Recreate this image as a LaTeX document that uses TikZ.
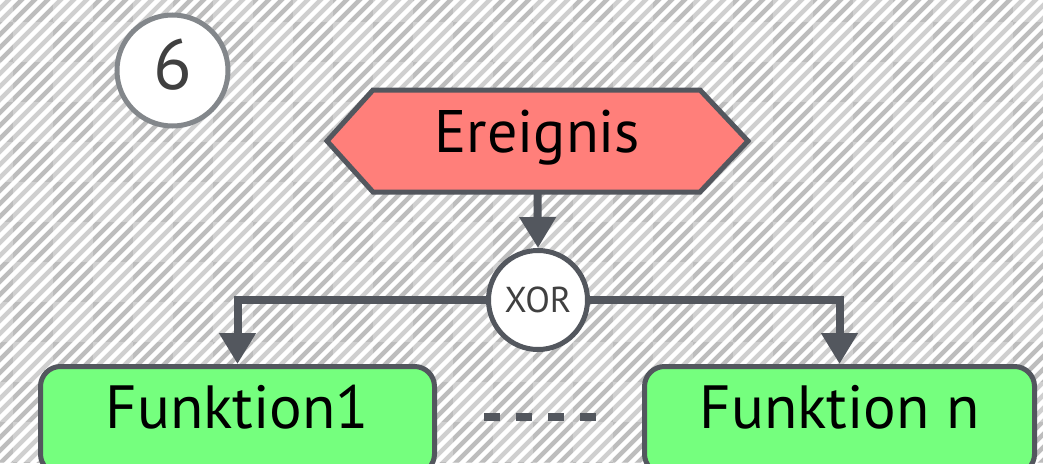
\documentclass[tikz,border=0pt]{standalone}
\usepackage{fontspec}
\setmainfont{PT Sans}
\usetikzlibrary{arrows.meta}
\definecolor{edge}{HTML}{53575E}
\definecolor{evfill}{HTML}{FF7F7A}
\definecolor{fnfill}{HTML}{75FF7E}
\definecolor{ringgray}{HTML}{83878B}
\definecolor{numgray}{HTML}{404040}
\definecolor{bgdark}{HTML}{BDBDBD}
\begin{document}
\begin{tikzpicture}[x=1pt,y=-1pt,
  conn/.style={draw=edge, line width=8pt, -{Triangle[width=35pt,length=31pt]}},
  fnbox/.style={draw=edge, fill=fnfill, line width=5pt, rounded corners=20pt, inner xsep=0pt, inner ysep=0pt,
    text height=61.5pt, text depth=46pt, anchor=base, font=\fontsize{61}{64}\selectfont},
  evshape/.style={draw=edge, fill=evfill, line width=5pt, line join=miter},
  gate/.style={circle, draw=edge, fill=white, line width=5pt, minimum size=99pt, inner sep=0pt,
    text=numgray, font=\fontsize{36}{40}\selectfont},
  ring/.style={circle, draw=ringgray, fill=white, line width=5pt, minimum size=111pt, inner sep=0pt}
]
\useasboundingbox (0,0) rectangle (1043,463);
\clip (0,0) rectangle (1043,463);
% background
\fill[bgdark] (0,0) rectangle (1043,463);
\foreach \i in {-40,...,85} {
  \draw[white, line width=4.5pt] (\i*13, 470) -- ++(480,-480);
}
\foreach \cx in {-1,...,26} {
  \foreach \cy in {-1,...,11} {
    \pgfmathtruncatemacro\ckpar{mod(\cx+\cy+100,2)}
    \ifnum\ckpar=0
      \fill[white,opacity=0.28] (13+\cx*40, 22+\cy*40) rectangle ++(40,40);
    \fi
  }
}
% number badge
\node[ring] (num) at (172.5,70.5) {};
\node[text=numgray, font=\fontsize{71}{75}\selectfont, inner sep=0pt] (numtxt) at (172.5,65) {6};
% event
\path[evshape] (327,141) -- (373,90) -- (700,90) -- (748,141) -- (700,192) -- (373,192) -- cycle;
\node[font=\fontsize{60}{64}\selectfont, inner sep=0pt, text height=62pt, text depth=40pt, anchor=base] (ev) at (537.5,152) {Ereignis};
% gate
\node[gate] (xor) at (538,300) {XOR};
% functions
\node[fnbox, minimum width=394pt] (f1) at (237.5,428) {Funktion1};
\node[fnbox, minimum width=390pt] (fn) at (839.5,428) {Funktion n};
% connectors
\draw[conn] (ev.south) -- (xor.north);
\draw[conn] (xor.west) -| (f1.north);
\draw[conn] (xor.east) -| (fn.north);
% ellipsis
\coordinate (dots1) at (484,417);
\coordinate (dots2) at (596,417);
\draw[edge, line width=8pt, dash pattern=on 16pt off 16pt] (dots1) -- (dots2);
\end{tikzpicture}
\end{document}
